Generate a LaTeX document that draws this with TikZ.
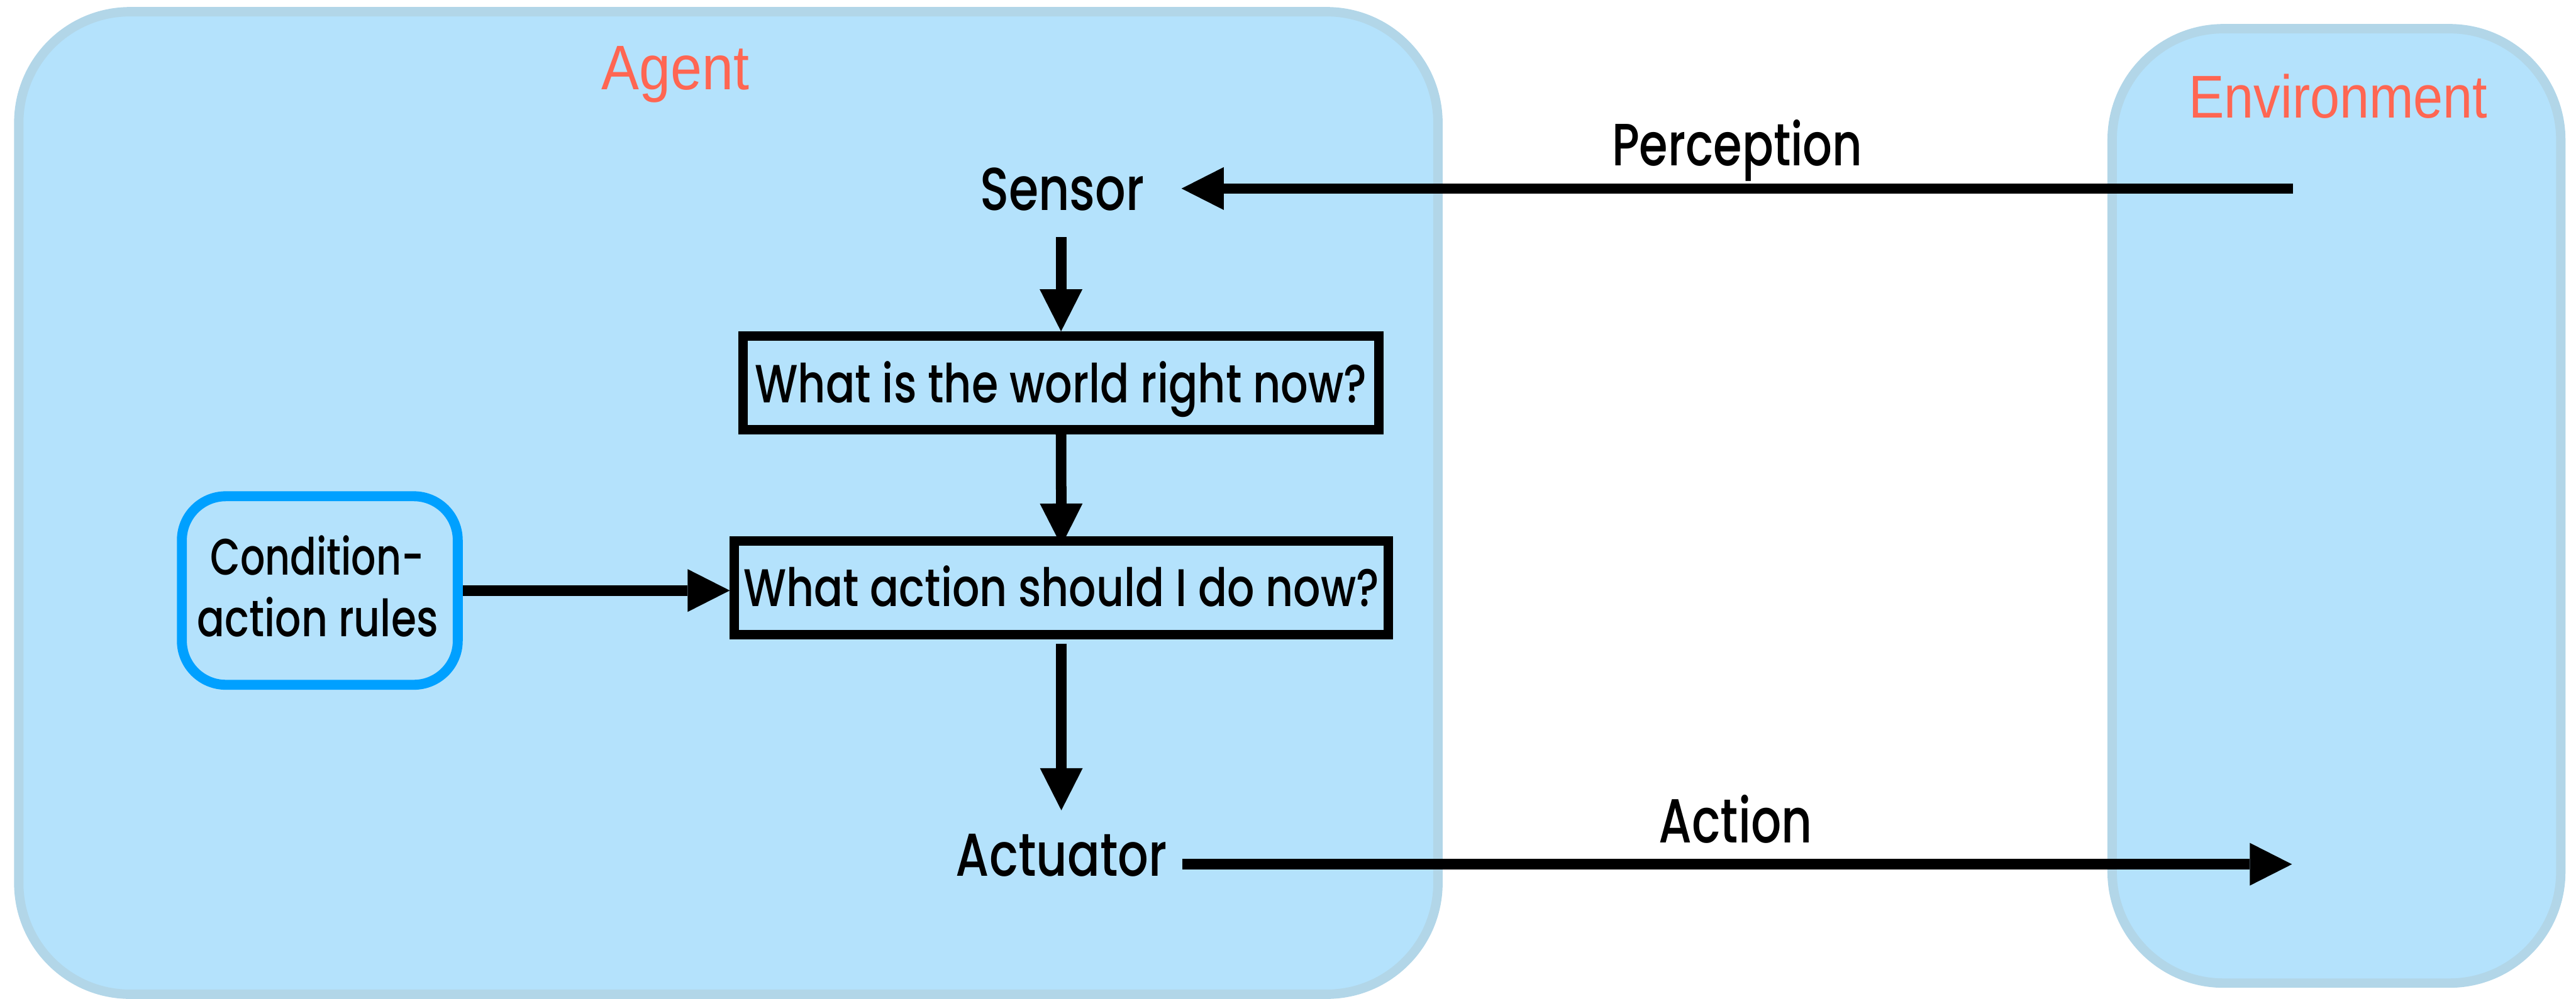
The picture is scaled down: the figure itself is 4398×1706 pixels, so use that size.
\documentclass[tikz,border=0pt]{standalone}
\usepackage{fontspec}
\usepackage{graphicx}
\usetikzlibrary{arrows.meta}
\newfontfamily\popf{Poppins Medium}
\newfontfamily\libf{Liberation Sans}
\definecolor{boxfill}{RGB}{180,226,252}
\definecolor{boxline}{RGB}{178,214,232}
\definecolor{labelred}{RGB}{255,102,82}
\definecolor{condline}{RGB}{0,160,255}
\newsavebox\fitbox
\newlength\fitcap
\newcommand\fitt[4]{%
  \begingroup#1\fontsize{100pt}{120pt}\selectfont
  \sbox\fitbox{#4}%
  \setlength\fitcap{\fontcharht\font`H}%
  \pgfmathsetmacro\fitsx{#2/\the\wd\fitbox}%
  \pgfmathsetmacro\fitsy{#3/\the\fitcap}%
  \scalebox{\fitsx}[\fitsy]{\usebox\fitbox}%
  \endgroup}
\tikzset{
  container/.style={draw=boxline, fill=boxfill, line width=16pt, inner sep=0pt, rounded corners=190pt},
  qbox/.style={draw=black, line width=16pt, inner sep=0pt, text depth=0pt},
  condbox/.style={draw=condline, line width=17pt, inner sep=0pt, rounded corners=75pt},
  txt/.style={inner sep=0pt, anchor=base},
  arr/.style={line width=18pt, -{Triangle[length=72pt,width=73pt,line width=0pt]}},
}
\begin{document}
\begin{tikzpicture}[x=1pt,y=-1pt]
\useasboundingbox (0,0) rectangle (4398,1706);
% containers
\node[container, minimum width=2423pt, minimum height=1678pt] (agent) at (1243.5,859) {};
\node[container, minimum width=766pt, minimum height=1630pt] (env) at (3989,864) {};
\node[txt, text=labelred] (agentlbl) at (1153,153) {\fitt{\libf}{252}{74}{Agent}};
\node[txt, text=labelred] (envlbl) at (3992,201) {\fitt{\libf}{510}{71}{Environment}};
% inner boxes
\node[qbox, minimum width=1085pt, minimum height=160pt, text height=68pt] (world) at (1811.5,654)
  {\fitt{\popf}{1045}{64}{What is the world right now?}};
\node[qbox, minimum width=1116pt, minimum height=160pt, text height=64pt] (action) at (1812,1004)
  {\fitt{\popf}{1085}{63}{What action should I do now?}};
\node[condbox, minimum width=471pt, minimum height=322pt] (cond) at (546,1008.5) {};
\node[txt] (cond1) at (541.5,982) {\fitt{\popf}{365}{61}{Condition-}};
\node[txt] (cond2) at (542.5,1087) {\fitt{\popf}{411}{61}{action rules}};
% labels
\node[txt] (sensor) at (1813.5,359) {\fitt{\popf}{281}{72}{Sensor}};
\node[txt] (actuator) at (1812.5,1496) {\fitt{\popf}{361}{72}{Actuator}};
\node[txt] (perc) at (2966,283) {\fitt{\popf}{428}{71}{Perception}};
\node[txt] (act) at (2963,1439) {\fitt{\popf}{262}{74}{Action}};
\coordinate (envP) at (3915,322);
\coordinate (envA) at (3913,1476);
% arrows
\draw[arr, shorten >=63pt] (envP) -- (sensor.east |- envP);
\draw[arr, shorten <=45pt] (world.north |- sensor.south) -- (world.north);
\draw[arr, shorten >=-16pt] (world.south) -- (action.north);
\draw[arr, shorten <=7pt, shorten >=40pt] (action.south) -- (action.south |- actuator.north);
\draw[arr] (cond.east) -- (action.west |- cond.east);
\draw[arr, shorten <=25pt] (actuator.east |- envA) -- (envA);
\end{tikzpicture}
\end{document}
